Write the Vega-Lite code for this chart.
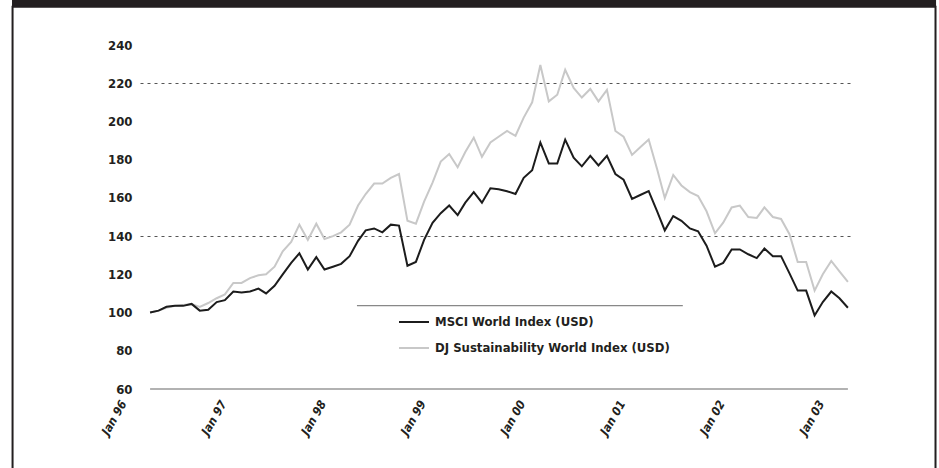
{
  "$schema": "https://vega.github.io/schema/vega-lite/v6.json",
  "autosize": {"type": "none"},
  "width": 712,
  "height": 344,
  "padding": {"left": 140, "top": 45, "right": 87, "bottom": 79},
  "background": "white",
  "config": {
    "view": {"stroke": null},
    "axisY": {"labelOverlap": false, "tickCount": 10},
    "axisX": {"labelOverlap": false}
  },
  "layer": [
    {
      "data": {"values": [{}]},
      "mark": {"type": "rect", "fill": "#231f20", "stroke": null},
      "encoding": {
        "x": {
          "datum": {"year": 1994, "month": 8, "date": 13}, "type": "temporal",
          "scale": {"domain": [{"year": 1995, "month": 11, "date": 25}, {"year": 2003, "month": 1, "date": 16}], "nice": false},
          "axis": {
            "values": [
              {"year": 1996, "month": 1, "date": 1}, {"year": 1997, "month": 1, "date": 1},
              {"year": 1998, "month": 1, "date": 1}, {"year": 1999, "month": 1, "date": 1},
              {"year": 2000, "month": 1, "date": 1}, {"year": 2001, "month": 1, "date": 1},
              {"year": 2002, "month": 1, "date": 1}, {"year": 2003, "month": 1, "date": 1}
            ],
            "format": "Jan %y",
            "title": null,
            "domain": false,
            "ticks": false,
            "grid": false,
            "labelAngle": -60,
            "labelAlign": "right",
            "labelBaseline": "middle",
            "labelOffset": -27,
            "labelPadding": 12,
            "labelFont": "DejaVu Sans Condensed, DejaVu Sans, sans-serif",
            "labelFontWeight": "bold",
            "labelFontStyle": "italic",
            "labelFontSize": 12,
            "labelColor": "#231f20",
            "labelOverlap": false
          }
        },
        "x2": {"datum": {"year": 2003, "month": 11, "date": 20}},
        "y": {
          "datum": 268, "type": "quantitative",
          "scale": {"domain": [60, 240], "nice": false, "zero": false},
          "axis": {
            "values": [60, 80, 100, 120, 140, 160, 180, 200, 220, 240],
            "title": null,
            "domain": false,
            "ticks": false,
            "labelOverlap": false,
            "labelPadding": 8,
            "labelFont": "DejaVu Sans Condensed, DejaVu Sans, sans-serif",
            "labelFontWeight": "bold",
            "labelFontSize": 13,
            "labelColor": "#231f20",
            "grid": true,
            "gridDash": [3, 4],
            "gridColor": "#555555",
            "gridWidth": 1,
            "gridOpacity": {"condition": {"test": "datum.value == 140 || datum.value == 220", "value": 1}, "value": 0}
          }
        },
        "y2": {"datum": 259.9}
      }
    },
    {
      "data": {"values": [{}]},
      "mark": {"type": "rect", "fill": null, "stroke": "#231f20", "strokeWidth": 2},
      "encoding": {
        "x": {"datum": {"year": 1994, "month": 8, "date": 15}, "type": "temporal"},
        "x2": {"datum": {"year": 2003, "month": 11, "date": 18}},
        "y": {"datum": 260, "type": "quantitative"},
        "y2": {"datum": 0}
      }
    },
    {
      "data": {"values": [{"v": 60}]},
      "mark": {"type": "rule", "color": "#999999", "strokeWidth": 1.5},
      "encoding": {
        "x": {"datum": {"year": 1996, "month": 1, "date": 1}, "type": "temporal"},
        "x2": {"datum": {"year": 2003, "month": 1, "date": 1}},
        "y": {"field": "v", "type": "quantitative"}
      }
    },
    {
      "data": {"values": [{"v": 103.6}]},
      "mark": {"type": "rule", "color": "#888888", "strokeWidth": 1.2},
      "encoding": {
        "x": {"datum": {"year": 1998, "month": 1, "date": 28}, "type": "temporal"},
        "x2": {"datum": {"year": 2001, "month": 5, "date": 6}},
        "y": {"field": "v", "type": "quantitative"}
      }
    },
    {
      "data": {
        "values": [
          {"d": "1996/01/01", "MSCI": 100, "DJSI": 100},
          {"d": "1996/02/01", "MSCI": 101, "DJSI": 101},
          {"d": "1996/03/01", "MSCI": 103, "DJSI": 102.5},
          {"d": "1996/04/01", "MSCI": 103.5, "DJSI": 103.5},
          {"d": "1996/05/01", "MSCI": 103.5, "DJSI": 104},
          {"d": "1996/06/01", "MSCI": 104.5, "DJSI": 104.5},
          {"d": "1996/07/01", "MSCI": 101, "DJSI": 103},
          {"d": "1996/08/01", "MSCI": 101.5, "DJSI": 105},
          {"d": "1996/09/01", "MSCI": 105.5, "DJSI": 107.5},
          {"d": "1996/10/01", "MSCI": 106.5, "DJSI": 109.5},
          {"d": "1996/11/01", "MSCI": 111, "DJSI": 115.5},
          {"d": "1996/12/01", "MSCI": 110.5, "DJSI": 115.5},
          {"d": "1997/01/01", "MSCI": 111, "DJSI": 118},
          {"d": "1997/02/01", "MSCI": 112.5, "DJSI": 119.5},
          {"d": "1997/03/01", "MSCI": 110, "DJSI": 120},
          {"d": "1997/04/01", "MSCI": 114, "DJSI": 124},
          {"d": "1997/05/01", "MSCI": 120, "DJSI": 132},
          {"d": "1997/06/01", "MSCI": 126, "DJSI": 137},
          {"d": "1997/07/01", "MSCI": 131, "DJSI": 146},
          {"d": "1997/08/01", "MSCI": 122.5, "DJSI": 138},
          {"d": "1997/09/01", "MSCI": 129, "DJSI": 146.5},
          {"d": "1997/10/01", "MSCI": 122.5, "DJSI": 138.5},
          {"d": "1997/11/01", "MSCI": 124, "DJSI": 140},
          {"d": "1997/12/01", "MSCI": 125.5, "DJSI": 142},
          {"d": "1998/01/01", "MSCI": 129.5, "DJSI": 146},
          {"d": "1998/02/01", "MSCI": 137.5, "DJSI": 156},
          {"d": "1998/03/01", "MSCI": 143, "DJSI": 162},
          {"d": "1998/04/01", "MSCI": 144, "DJSI": 167.5},
          {"d": "1998/05/01", "MSCI": 142, "DJSI": 167.5},
          {"d": "1998/06/01", "MSCI": 146, "DJSI": 170.5},
          {"d": "1998/07/01", "MSCI": 145.5, "DJSI": 172.5},
          {"d": "1998/08/01", "MSCI": 124.5, "DJSI": 148},
          {"d": "1998/09/01", "MSCI": 126.5, "DJSI": 146.5},
          {"d": "1998/10/01", "MSCI": 138, "DJSI": 158},
          {"d": "1998/11/01", "MSCI": 147, "DJSI": 168},
          {"d": "1998/12/01", "MSCI": 152, "DJSI": 179},
          {"d": "1999/01/01", "MSCI": 156, "DJSI": 183},
          {"d": "1999/02/01", "MSCI": 151, "DJSI": 176},
          {"d": "1999/03/01", "MSCI": 157.5, "DJSI": 184},
          {"d": "1999/04/01", "MSCI": 163, "DJSI": 191.5},
          {"d": "1999/05/01", "MSCI": 157.5, "DJSI": 181.5},
          {"d": "1999/06/01", "MSCI": 165, "DJSI": 189},
          {"d": "1999/07/01", "MSCI": 164.5, "DJSI": 192},
          {"d": "1999/08/01", "MSCI": 163.5, "DJSI": 195},
          {"d": "1999/09/01", "MSCI": 162, "DJSI": 192.5},
          {"d": "1999/10/01", "MSCI": 170.5, "DJSI": 202},
          {"d": "1999/11/01", "MSCI": 174.5, "DJSI": 210},
          {"d": "1999/12/01", "MSCI": 189, "DJSI": 229.5},
          {"d": "2000/01/01", "MSCI": 178, "DJSI": 210.5},
          {"d": "2000/02/01", "MSCI": 178, "DJSI": 214},
          {"d": "2000/03/01", "MSCI": 190.5, "DJSI": 227},
          {"d": "2000/04/01", "MSCI": 181, "DJSI": 217.5},
          {"d": "2000/05/01", "MSCI": 176.5, "DJSI": 212.5},
          {"d": "2000/06/01", "MSCI": 182, "DJSI": 217},
          {"d": "2000/07/01", "MSCI": 177, "DJSI": 210.5},
          {"d": "2000/08/01", "MSCI": 182, "DJSI": 216.5},
          {"d": "2000/09/01", "MSCI": 172.5, "DJSI": 195},
          {"d": "2000/10/01", "MSCI": 169.5, "DJSI": 192},
          {"d": "2000/11/01", "MSCI": 159.5, "DJSI": 182.5},
          {"d": "2000/12/01", "MSCI": 161.5, "DJSI": 186.5},
          {"d": "2001/01/01", "MSCI": 163.5, "DJSI": 190.5},
          {"d": "2001/02/01", "MSCI": 153, "DJSI": 175},
          {"d": "2001/03/01", "MSCI": 143, "DJSI": 160},
          {"d": "2001/04/01", "MSCI": 150.5, "DJSI": 172},
          {"d": "2001/05/01", "MSCI": 148, "DJSI": 166.5},
          {"d": "2001/06/01", "MSCI": 144, "DJSI": 163},
          {"d": "2001/07/01", "MSCI": 142.5, "DJSI": 161},
          {"d": "2001/08/01", "MSCI": 135, "DJSI": 153},
          {"d": "2001/09/01", "MSCI": 124, "DJSI": 141.5},
          {"d": "2001/10/01", "MSCI": 126, "DJSI": 147},
          {"d": "2001/11/01", "MSCI": 133, "DJSI": 155},
          {"d": "2001/12/01", "MSCI": 133, "DJSI": 156},
          {"d": "2002/01/01", "MSCI": 130.5, "DJSI": 150},
          {"d": "2002/02/01", "MSCI": 128.5, "DJSI": 149.5},
          {"d": "2002/03/01", "MSCI": 133.5, "DJSI": 155},
          {"d": "2002/04/01", "MSCI": 129.5, "DJSI": 150},
          {"d": "2002/05/01", "MSCI": 129.5, "DJSI": 149},
          {"d": "2002/06/01", "MSCI": 120.5, "DJSI": 141},
          {"d": "2002/07/01", "MSCI": 111.5, "DJSI": 126.5},
          {"d": "2002/08/01", "MSCI": 111.5, "DJSI": 126.5},
          {"d": "2002/09/01", "MSCI": 98.5, "DJSI": 111.5},
          {"d": "2002/10/01", "MSCI": 105.5, "DJSI": 120},
          {"d": "2002/11/01", "MSCI": 111, "DJSI": 127},
          {"d": "2002/12/01", "MSCI": 107.5, "DJSI": 121.5},
          {"d": "2003/01/01", "MSCI": 102.5, "DJSI": 116}
        ]
      },
      "transform": [{"fold": ["DJSI", "MSCI"], "as": ["series", "value"]}],
      "mark": {"type": "line", "strokeWidth": 2, "strokeJoin": "miter"},
      "encoding": {
        "x": {"field": "d", "type": "temporal"},
        "y": {"field": "value", "type": "quantitative"},
        "color": {
          "field": "series", "type": "nominal",
          "scale": {"domain": ["MSCI", "DJSI"], "range": ["#1c1c1c", "#c8c8c8"]},
          "legend": {
            "orient": "none",
            "legendX": 258,
            "legendY": 261,
            "title": null,
            "symbolType": "stroke",
            "symbolSize": 900,
            "symbolStrokeWidth": 2,
            "rowPadding": 3,
            "labelOffset": 5,
            "labelFont": "DejaVu Sans Condensed, DejaVu Sans, sans-serif",
            "labelFontWeight": "bold",
            "labelFontSize": 13,
            "labelColor": "#231f20",
            "labelLimit": 400,
            "labelExpr": "datum.label == 'MSCI' ? 'MSCI World Index (USD)' : 'DJ Sustainability World Index (USD)'"
          }
        }
      }
    }
  ]
}
